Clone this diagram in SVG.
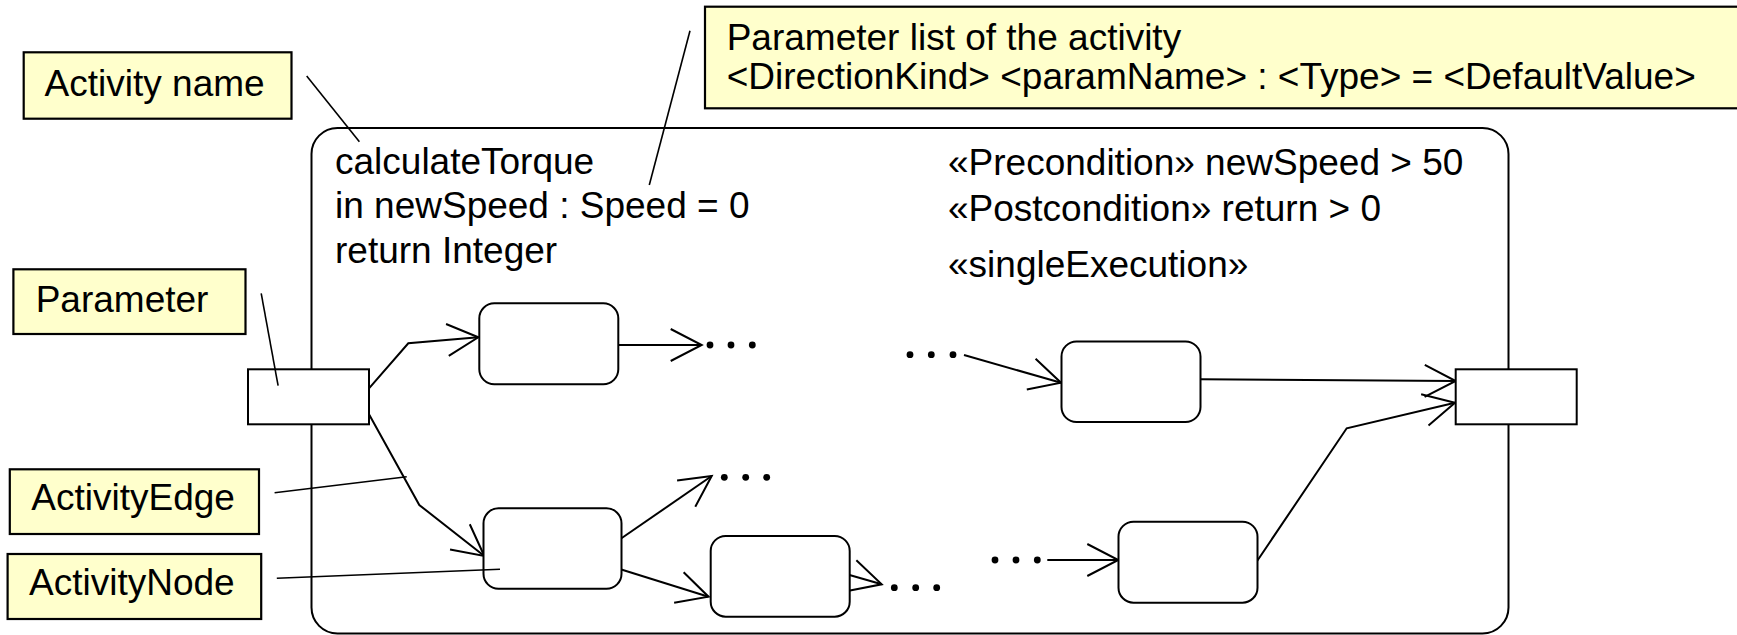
<svg xmlns="http://www.w3.org/2000/svg" width="1737" height="635" viewBox="0 0 1737 635">
  <style>
    .note { fill: #ffffcc; stroke: #000; stroke-width: 2.2; }
    .txt { font-family: "Liberation Sans", Arial, sans-serif; font-size: 37px; fill: #000; }
    .lead { stroke: #000; stroke-width: 1.6; fill: none; }
    .frame { fill: #fff; stroke: #000; stroke-width: 2; }
    .act { fill: #fff; stroke: #000; stroke-width: 2; }
    .pin { fill: #fff; stroke: #000; stroke-width: 2; }
    .edge { stroke: #000; stroke-width: 2; fill: none; marker-end: url(#open); }
    .dot { fill: #000; }
  </style>
  <defs>
    <marker id="open" markerUnits="userSpaceOnUse" orient="auto" refX="0" refY="0" markerWidth="40" markerHeight="40" overflow="visible">
      <path d="M -31,-16 L 0,0 L -31,16" fill="none" stroke="#000" stroke-width="2"/>
    </marker>
  </defs>

  <rect width="1737" height="635" fill="#fff"/>

  <!-- activity frame -->
  <g id="activity">
    <rect class="frame" x="311.5" y="128" width="1197" height="505.5" rx="26" ry="26"/>
    <text class="txt" x="335" y="174">calculateTorque</text>
    <text class="txt" x="335" y="218">in newSpeed : Speed = 0</text>
    <text class="txt" x="335" y="263">return Integer</text>
    <text class="txt" x="948" y="175">«Precondition» newSpeed &gt; 50</text>
    <text class="txt" x="948" y="221">«Postcondition» return &gt; 0</text>
    <text class="txt" x="948" y="277">«singleExecution»</text>
  </g>

  <!-- connectors -->
  <g id="edges">
    <polyline class="edge" points="369,388.3 408.3,343.3 478.3,337.3"/>
    <polyline class="edge" points="369,414.3 419.3,505 484.3,556"/>
    <polyline class="edge" points="618.3,345 701.7,345"/>
    <polyline class="edge" points="964,355 1061,382.7"/>
    <polyline class="edge" points="1200.4,379.3 1455.7,381"/>
    <polyline class="edge" points="620,539.3 711.7,476"/>
    <polyline class="edge" points="620.5,569.3 708.5,596.7"/>
    <polyline class="edge" points="849.5,575 881.7,584.3"/>
    <polyline class="edge" points="1047.3,560 1118.3,560"/>
    <polyline class="edge" points="1257.3,560.7 1346.7,428.3 1455,402.7"/>
  </g>

  <!-- continuation dots -->
  <g id="dots">
    <circle class="dot" cx="710" cy="345" r="3.4"/>
    <circle class="dot" cx="731" cy="345" r="3.4"/>
    <circle class="dot" cx="752.3" cy="345" r="3.4"/>
    <circle class="dot" cx="910" cy="354.7" r="3.4"/>
    <circle class="dot" cx="931.3" cy="354.7" r="3.4"/>
    <circle class="dot" cx="953" cy="354.7" r="3.4"/>
    <circle class="dot" cx="724.3" cy="477.3" r="3.4"/>
    <circle class="dot" cx="745.7" cy="477.3" r="3.4"/>
    <circle class="dot" cx="766.7" cy="477.3" r="3.4"/>
    <circle class="dot" cx="894.3" cy="587.7" r="3.4"/>
    <circle class="dot" cx="915.7" cy="587.7" r="3.4"/>
    <circle class="dot" cx="936.7" cy="587.7" r="3.4"/>
    <circle class="dot" cx="995" cy="560" r="3.4"/>
    <circle class="dot" cx="1016" cy="560" r="3.4"/>
    <circle class="dot" cx="1037.3" cy="560" r="3.4"/>
  </g>

  <!-- parameter pins on the frame border -->
  <g id="pin-in"><rect class="pin" x="248" y="369.3" width="121" height="55"/></g>
  <g id="pin-out"><rect class="pin" x="1455.7" y="369.3" width="121" height="55"/></g>

  <!-- activity nodes -->
  <g id="node1"><rect class="act" x="479.3" y="303.3" width="139" height="81" rx="15"/></g>
  <g id="node2"><rect class="act" x="483.5" y="508.3" width="138" height="80.5" rx="15"/></g>
  <g id="node3"><rect class="act" x="1061.5" y="341.5" width="139" height="80.5" rx="15"/></g>
  <g id="node4"><rect class="act" x="710.7" y="536" width="139" height="80.7" rx="15"/></g>
  <g id="node5"><rect class="act" x="1118.5" y="521.7" width="139" height="81" rx="15"/></g>

  <!-- annotation leaders -->
  <g id="leaders">
    <line class="lead" x1="306.7" y1="76" x2="359.4" y2="141.7"/>
    <line class="lead" x1="690" y1="30.7" x2="649.3" y2="185"/>
    <line class="lead" x1="261.2" y1="293.3" x2="278.1" y2="385.7"/>
    <line class="lead" x1="274.6" y1="492.7" x2="406.7" y2="476.7"/>
    <line class="lead" x1="276.8" y1="578.3" x2="500" y2="569.3"/>
  </g>

  <!-- annotations -->
  <g id="note-activity-name">
    <rect class="note" x="23.7" y="52.3" width="267.8" height="66.4"/>
    <text class="txt" x="44.6" y="95.7">Activity name</text>
  </g>
  <g id="note-parameter-list">
    <rect class="note" x="705" y="6.7" width="1040" height="101.6"/>
    <text class="txt" x="726.7" y="50">Parameter list of the activity</text>
    <text class="txt" x="726.7" y="89.3">&lt;DirectionKind&gt; &lt;paramName&gt; : &lt;Type&gt; = &lt;DefaultValue&gt;</text>
  </g>
  <g id="note-parameter">
    <rect class="note" x="13.4" y="269.3" width="232.1" height="64.7"/>
    <text class="txt" x="35.7" y="312.3">Parameter</text>
  </g>
  <g id="note-activity-edge">
    <rect class="note" x="9.8" y="469.3" width="249.2" height="64.7"/>
    <text class="txt" x="31.3" y="510">ActivityEdge</text>
  </g>
  <g id="note-activity-node">
    <rect class="note" x="7.6" y="554" width="253.6" height="65"/>
    <text class="txt" x="29" y="595">ActivityNode</text>
  </g>
</svg>
